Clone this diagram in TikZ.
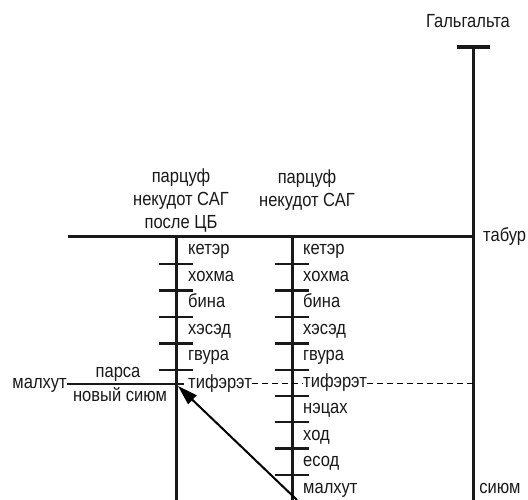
\documentclass[tikz,border=0pt]{standalone}
\usepackage{fontspec}
\setmainfont{Liberation Sans}[FakeStretch=0.87]
\usetikzlibrary{arrows.meta}
\tikzset{
  axis/.style={line width=3pt, draw=black!90},
  rung/.style={line width=2.4pt, draw=black!90},
  lbl/.style={font=\fontsize{19}{23}\selectfont, inner sep=0pt, text=black!90},
  sefira/.style={lbl, anchor=base west},
  dashline/.style={line width=0.8pt, dash pattern=on 6pt off 4pt},
  pointer/.style={-{Triangle[length=20pt, width=12pt]}, line width=2pt}
}

\begin{document}
\begin{tikzpicture}[x=1pt, y=-1pt]
  \useasboundingbox (0,0) rectangle (528,500);

  % Galgalta line
  \node[lbl, anchor=base] (galg) at (468,28) {Гальгальта};
  \coordinate (gtop) at (473,47);
  \coordinate (gbot) at (473,500);
  \coordinate (tbl) at (457,47);
  \coordinate (tbr) at (490,47);
  \draw[axis, line width=4pt] (tbl) -- (tbr);
  \draw[axis] (gtop) -- (gbot);

  % tabur
  \coordinate (tabl) at (68,237);
  \coordinate (tabr) at (473,237);
  \draw[axis] (tabl) -- (tabr);
  \node[lbl, anchor=base west] (tabur) at (483,242) {табур};
  \node[lbl, anchor=base] (sium) at (500,493) {сиюм};

  % parzufim
  \node[lbl, align=center] (capA) at (181,201) {парцуф\\некудот САГ\\после ЦБ};
  \node[lbl, align=center] (capB) at (307,190) {парцуф\\некудот САГ};

  \coordinate (atop) at (176,237);
  \coordinate (abot) at (176,500);
  \coordinate (btop) at (292,237);
  \coordinate (bbot) at (292,500);
  \draw[axis] (atop) -- (abot);
  \draw[axis] (btop) -- (bbot);

  \foreach \y in {264,290.5,317,343.5,370}
    \draw[rung] (159,\y) -- (193,\y);
  \foreach \y in {264,290.5,317,343.5,370,396,422,448.5,475}
    \draw[rung] (275,\y) -- (309,\y);

  % sefirot
  \node[sefira] (a1) at (188,254.5) {кетэр};
  \node[sefira] (a2) at (188,281) {хохма};
  \node[sefira] (a3) at (188,307.5) {бина};
  \node[sefira] (a4) at (188,334) {хэсэд};
  \node[sefira] (a5) at (188,360.5) {гвура};
  \node[sefira] (a6) at (188,388) {тифэрэт};

  \node[sefira] (b1) at (303,254.5) {кетэр};
  \node[sefira] (b2) at (303,281) {хохма};
  \node[sefira] (b3) at (303,307.5) {бина};
  \node[sefira] (b4) at (303,334) {хэсэд};
  \node[sefira] (b5) at (303,360.5) {гвура};
  \node[sefira] (b6) at (303,387) {тифэрэт};
  \node[sefira] (b7) at (303,413.5) {нэцах};
  \node[sefira] (b8) at (303,440) {ход};
  \node[sefira] (b9) at (303,466.5) {есод};
  \node[sefira] (b10) at (303,493) {малхут};

  % parsa
  \node[lbl, anchor=base east] (malx) at (67,388) {малхут};
  \node[lbl, anchor=base] (parsa) at (118,377) {парса};
  \node[lbl, anchor=base] (newsium) at (120,401) {новый сиюм};
  \coordinate (mend) at (184,384);
  \draw[rung, line width=2.6pt] (malx.east |- mend) -- (mend);

  \coordinate (tifr) at (473,383);
  \draw[dashline] (a6.east |- tifr) -- (b6.west |- tifr);
  \draw[dashline] (b6.east |- tifr) -- (tifr);

  \coordinate (astart) at (297,500);
  \coordinate (junc) at (178,386);
  \draw[pointer] (astart) -- (junc);
\end{tikzpicture}
\end{document}
